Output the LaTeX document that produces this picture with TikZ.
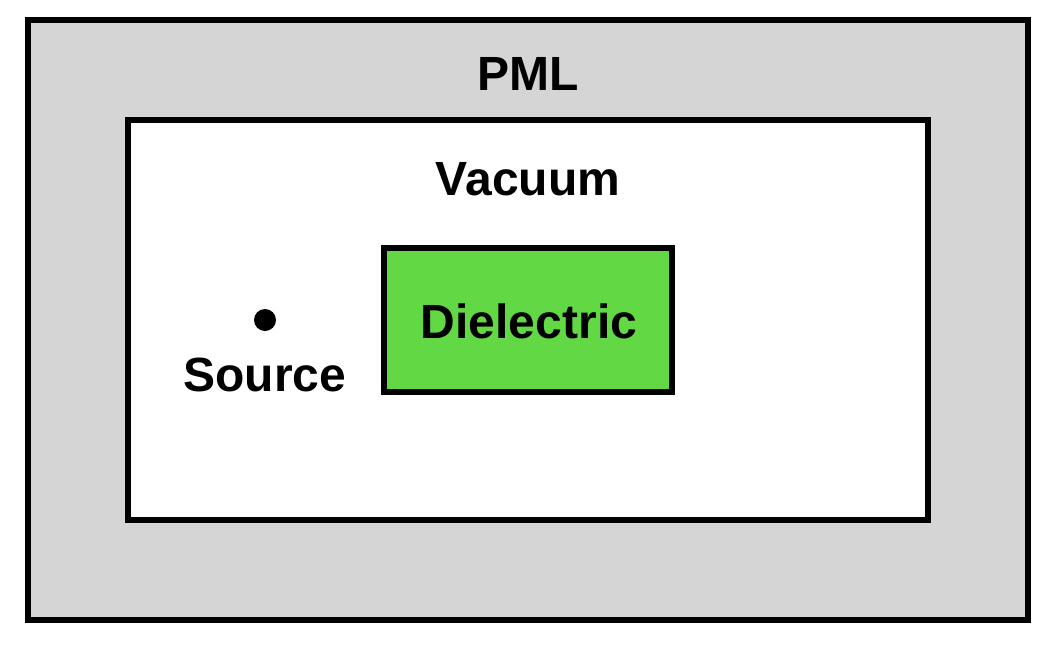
\documentclass[tikz,border=0pt]{standalone}
\usepackage{fontspec}
\setmainfont{Liberation Sans}
\definecolor{pmlgray}{HTML}{D5D5D5}
\definecolor{dielgreen}{HTML}{63D845}
\begin{document}
\begin{tikzpicture}[x=1pt,y=-1pt,
  region/.style={draw=black,line width=6pt},
  lbl/.style={anchor=base,inner sep=0pt,font=\fontsize{48}{56}\selectfont\bfseries}]
\useasboundingbox (0,0) rectangle (1052,646);
\fill[white] (0,0) rectangle (1052,646);
\draw[region,fill=pmlgray] (28,20) rectangle (1028,620);
\draw[region,fill=white] (128,120) rectangle (928,520);
\draw[region,fill=dielgreen] (384,248) rectangle (672,392);
\node[lbl] (pml) at (528,90) {PML};
\node[lbl] (vac) at (528,195) {Vacuum};
\node[lbl] (diel) at (529,338) {Dielectric};
\fill (265,320) circle (11);
\node[lbl] (src) at (265,391) {Source};
\end{tikzpicture}
\end{document}
